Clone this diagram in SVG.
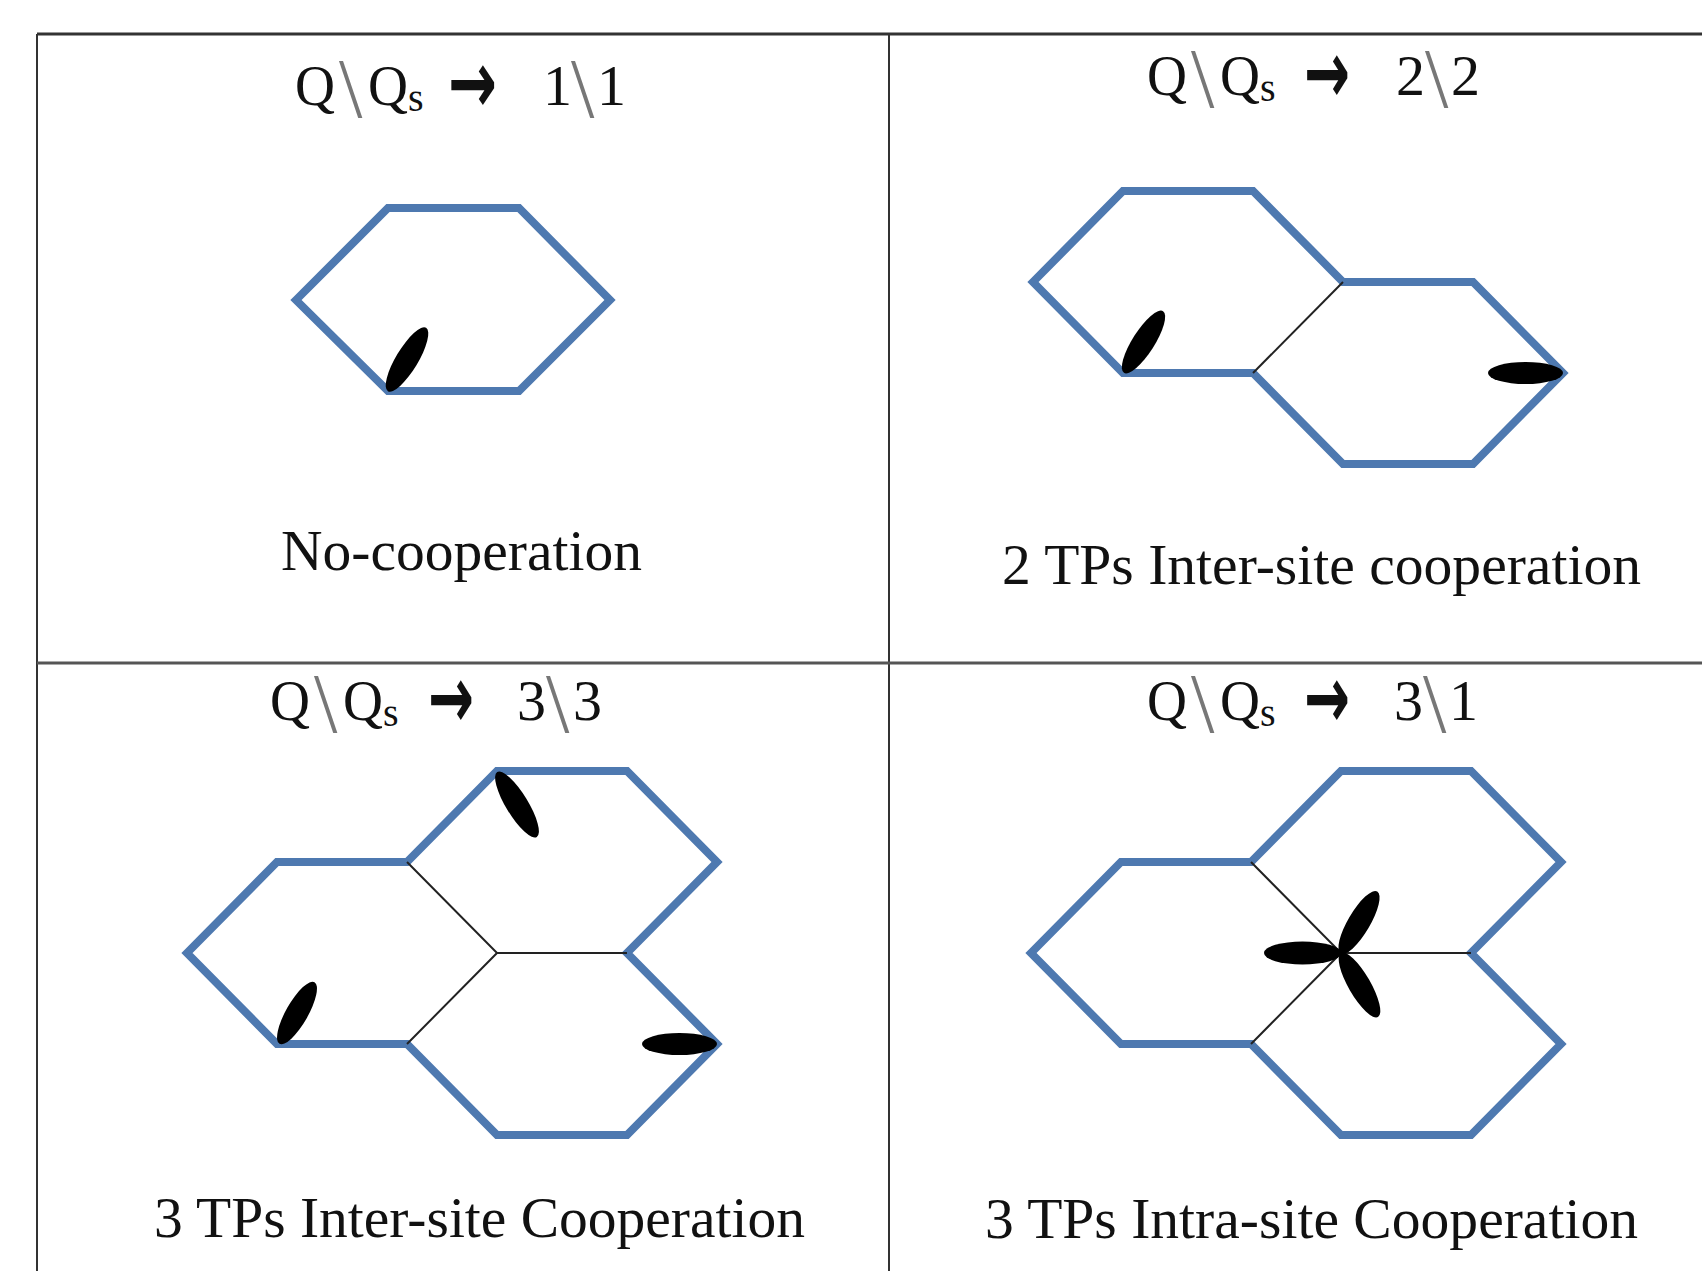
<svg xmlns="http://www.w3.org/2000/svg" width="1702" height="1271" viewBox="0 0 1702 1271">
<style>
.cell{fill:none;stroke:#4e79b0;stroke-width:8;stroke-linejoin:miter}
.inner{fill:none;stroke:#222;stroke-width:2}
.grid{stroke:#333;stroke-width:2;fill:none}
.gridh{stroke:#555;stroke-width:3;fill:none}
.lobe{fill:#000}
.t{font-family:"Liberation Serif","Times New Roman",serif;fill:#111}
.q{font-size:58px}
.bs{font-size:84px;fill:#777}
.sub{font-size:40px}
.arr{font-family:"DejaVu Sans",sans-serif;font-weight:bold;font-size:88px;fill:#111}
.lbl{font-family:"Liberation Serif","Times New Roman",serif;font-size:57px;fill:#111}
</style>
<rect width="1702" height="1271" fill="#fff"/>
<g id="table">
<line class="grid" x1="37" y1="34" x2="1702" y2="34" style="stroke-width:3"/>
<line class="grid" x1="37" y1="34" x2="37" y2="1271"/>
<line class="grid" x1="889" y1="34" x2="889" y2="1271"/>
<line class="gridh" x1="37" y1="663" x2="1702" y2="663"/>
</g>

<g id="panel1">
<g class="t" transform="translate(295,105)">
<text class="t q" x="0" y="0" textLength="40" lengthAdjust="spacingAndGlyphs">Q</text>
<text class="t bs" x="44" y="12">\</text>
<text class="t q" x="73" y="0" textLength="40" lengthAdjust="spacingAndGlyphs">Q</text>
<text class="t sub" x="113" y="6">s</text>
<text class="arr" x="153" y="8" textLength="49" lengthAdjust="spacingAndGlyphs">→</text>
<text class="t q" x="248" y="0">1</text>
<text class="t bs" x="276" y="12">\</text>
<text class="t q" x="302" y="0">1</text>
</g>
<path class="cell" d="M296,300 L388,208 L519,208 L610,300 L519,391 L388,391 Z"/>
<ellipse class="lobe" cx="407" cy="359.5" rx="37" ry="11" transform="rotate(-58.9 407 359.5)"/>
<text class="lbl" x="281" y="570" textLength="361" lengthAdjust="spacingAndGlyphs">No-cooperation</text>
</g>

<g id="panel2">
<g class="t" transform="translate(1147,95)">
<text class="t q" x="0" y="0" textLength="40" lengthAdjust="spacingAndGlyphs">Q</text>
<text class="t bs" x="44" y="12">\</text>
<text class="t q" x="73" y="0" textLength="40" lengthAdjust="spacingAndGlyphs">Q</text>
<text class="t sub" x="113" y="6">s</text>
<text class="arr" x="157" y="8" textLength="46" lengthAdjust="spacingAndGlyphs">→</text>
<text class="t q" x="249" y="0">2</text>
<text class="t bs" x="278" y="12">\</text>
<text class="t q" x="304" y="0">2</text>
</g>
<path class="cell" d="M1033,282 L1123,191 L1253,191 L1343,282 L1473,282 L1563,373 L1473,464 L1343,464 L1253,373 L1123,373 Z"/>
<line class="inner" x1="1343" y1="282" x2="1253" y2="373"/>
<ellipse class="lobe" cx="1143.5" cy="342" rx="36.5" ry="11" transform="rotate(-57.6 1143.5 342)"/>
<ellipse class="lobe" cx="1525.5" cy="373" rx="37.5" ry="11"/>
<text class="lbl" x="1002" y="584" textLength="639" lengthAdjust="spacingAndGlyphs">2 TPs Inter-site cooperation</text>
</g>

<g id="panel3">
<g class="t" transform="translate(270,720)">
<text class="t q" x="0" y="0" textLength="40" lengthAdjust="spacingAndGlyphs">Q</text>
<text class="t bs" x="44" y="12">\</text>
<text class="t q" x="73" y="0" textLength="40" lengthAdjust="spacingAndGlyphs">Q</text>
<text class="t sub" x="113" y="6">s</text>
<text class="arr" x="158" y="8" textLength="46" lengthAdjust="spacingAndGlyphs">→</text>
<text class="t q" x="247" y="0">3</text>
<text class="t bs" x="276" y="12">\</text>
<text class="t q" x="303" y="0">3</text>
</g>
<path class="cell" d="M187,953 L277,862 L407,862 L497,771 L627,771 L717,862 L627,953 L717,1044 L627,1135 L497,1135 L407,1044 L277,1044 Z"/>
<path class="inner" d="M407,862 L497,953 L627,953 M497,953 L407,1044"/>
<ellipse class="lobe" cx="297" cy="1013" rx="35.5" ry="11" transform="rotate(-60.4 297 1013)"/>
<ellipse class="lobe" cx="517" cy="804.5" rx="38" ry="11" transform="rotate(58.6 517 804.5)"/>
<ellipse class="lobe" cx="679.5" cy="1044" rx="37.5" ry="11"/>
<text class="lbl" x="154" y="1237" textLength="651" lengthAdjust="spacingAndGlyphs">3 TPs Inter-site Cooperation</text>
</g>

<g id="panel4">
<g class="t" transform="translate(1147,720)">
<text class="t q" x="0" y="0" textLength="40" lengthAdjust="spacingAndGlyphs">Q</text>
<text class="t bs" x="44" y="12">\</text>
<text class="t q" x="73" y="0" textLength="40" lengthAdjust="spacingAndGlyphs">Q</text>
<text class="t sub" x="113" y="6">s</text>
<text class="arr" x="157" y="8" textLength="46" lengthAdjust="spacingAndGlyphs">→</text>
<text class="t q" x="247" y="0">3</text>
<text class="t bs" x="276" y="12">\</text>
<text class="t q" x="302" y="0">1</text>
</g>
<path class="cell" d="M1031,953 L1121,862 L1251,862 L1341,771 L1471,771 L1561,862 L1471,953 L1561,1044 L1471,1135 L1341,1135 L1251,1044 L1121,1044 Z"/>
<path class="inner" d="M1251,862 L1341,953 L1471,953 M1341,953 L1251,1044"/>
<ellipse class="lobe" cx="1302.5" cy="953" rx="38.5" ry="11.5"/>
<ellipse class="lobe" cx="1359" cy="922.5" rx="36" ry="11" transform="rotate(-59.5 1359 922.5)"/>
<ellipse class="lobe" cx="1359.5" cy="985" rx="37" ry="11" transform="rotate(60 1359.5 985)"/>
<text class="lbl" x="985" y="1238" textLength="653" lengthAdjust="spacingAndGlyphs">3 TPs Intra-site Cooperation</text>
</g>
</svg>
